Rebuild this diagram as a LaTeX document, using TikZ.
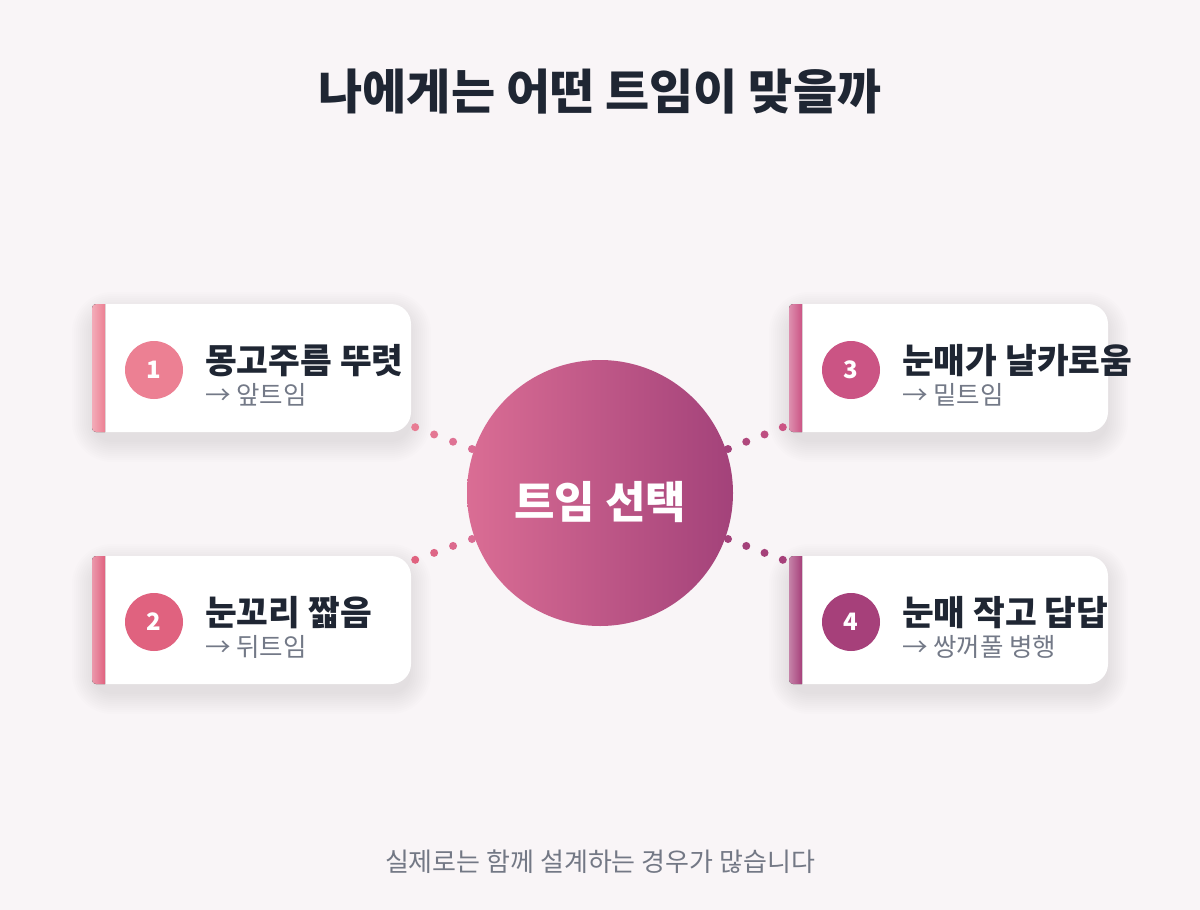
\documentclass[tikz,border=0pt]{standalone}
\usepackage{fontspec}
\setmainfont{Noto Sans CJK KR}
\usetikzlibrary{calc}
\definecolor{bg}{HTML}{F9F5F7}
\definecolor{ink}{HTML}{1F2633}
\definecolor{sub}{HTML}{737987}
\definecolor{foot}{HTML}{737885}
\definecolor{cA}{HTML}{EC8093}
\definecolor{cB}{HTML}{E0627F}
\definecolor{cC}{HTML}{CB5484}
\definecolor{cD}{HTML}{A6407A}
\definecolor{gL}{HTML}{DA6D94}
\definecolor{gR}{HTML}{A3427A}
\tikzset{
  cardanchor/.style={rectangle, minimum width=319pt, minimum height=128pt, inner sep=0pt},
  numc/.style={circle, minimum size=58pt, inner sep=0pt, text=white, font=\bfseries\fontsize{24}{24}\selectfont},
  cardtitle/.style={anchor=base west, inner sep=0pt, text=ink, font=\bfseries\fontsize{34.5}{34.5}\selectfont},
  cardsub/.style={anchor=base west, inner sep=0pt, text=sub, font=\fontsize{25.5}{25.5}\selectfont},
  shadowlayer/.style={fill=black, opacity=0.009},
}
% #1 name, #2 left x, #3 top y, #4 colour, #5 number, #6 title, #7 subtitle
\newcommand\mycard[7]{%
  \node[cardanchor] (#1) at (#2+159.5,#3-64) {};
  \foreach \k in {0,2,...,20} {
    \pgfmathsetmacro\rr{20+\k}
    \fill[shadowlayer, rounded corners=\rr pt] (#2-\k,#3-8+\k) rectangle (#2+319+\k,#3-138-\k);
  }
  \fill[white] (#2+4,#3) -- (#2+299,#3) arc[start angle=90,end angle=0,radius=20]
     -- (#2+319,#3-108) arc[start angle=0,end angle=-90,radius=20]
     -- (#2+4,#3-128) arc[start angle=-90,end angle=-180,radius=4]
     -- (#2,#3-4) arc[start angle=180,end angle=90,radius=4] -- cycle;
  \fill[left color=#4!65!white, right color=#4] (#2+4,#3) -- (#2+13,#3) -- (#2+13,#3-128)
     -- (#2+4,#3-128) arc[start angle=-90,end angle=-180,radius=4]
     -- (#2,#3-4) arc[start angle=180,end angle=90,radius=4] -- cycle;
  \node[numc, fill=#4] (#1n) at (#2+62,#3-66) {#5};
  \node[cardtitle] (#1t) at (#2+113,#3-69) {#6};
  \node[cardsub] (#1s) at (#2+113,#3-100) {#7};
}
% dots: #1 start coord, #2 end coord, #3 start colour, #4 end colour
\newcommand\mydots[4]{%
  \foreach \i/\p in {0/100,1/67,2/33,3/0} {
    \fill[#3!\p!#4] ($(#1)!\i/3!(#2)$) circle (4pt);
  }
}
\begin{document}
\begin{tikzpicture}[x=1pt,y=1pt]
\fill[bg] (0,0) rectangle (1200,-910);
\useasboundingbox (0,0) rectangle (1200,-910);

\node[anchor=base, inner sep=0pt, text=ink, font=\bfseries\fontsize{48}{48}\selectfont] (title) at (600,-109) {나에게는 어떤 트임이 맞을까};

\mycard{c1}{92}{-304}{cA}{1}{몽고주름 뚜렷}{→ 앞트임}
\mycard{c2}{92}{-556}{cB}{2}{눈꼬리 짧음}{→ 뒤트임}
\mycard{c3}{789}{-304}{cC}{3}{눈매가 날카로움}{→ 밑트임}
\mycard{c4}{789}{-556}{cD}{4}{눈매 작고 답답}{→ 쌍꺼풀 병행}

\node[circle, minimum size=266pt, inner sep=0pt, left color=gL, right color=gR] (hub) at (600,-493) {};
\node[anchor=base, inner sep=0pt, text=white, font=\bfseries\fontsize{44}{44}\selectfont] (hubt) at (600,-518) {트임 선택};

\coordinate (d1a) at ($(c1.south east)+(4,5)$);
\coordinate (d1b) at ($(hub.center)+(-128,44)$);
\coordinate (d2a) at ($(c2.north east)+(4,-4)$);
\coordinate (d2b) at ($(hub.center)+(-128,-46)$);
\coordinate (d3a) at ($(c3.south west)+(-6,5)$);
\coordinate (d3b) at ($(hub.center)+(128,44)$);
\coordinate (d4a) at ($(c4.north west)+(-6,-4)$);
\coordinate (d4b) at ($(hub.center)+(128,-46)$);
\mydots{d1a}{d1b}{cA!80!gL}{gL}
\mydots{d2a}{d2b}{cB}{gL}
\mydots{d3a}{d3b}{cC}{gR}
\mydots{d4a}{d4b}{cD}{gR}

\node[anchor=base, inner sep=0pt, text=foot, font=\fontsize{26}{26}\selectfont] (foot) at (600,-871) {실제로는 함께 설계하는 경우가 많습니다};
\end{tikzpicture}
\end{document}
